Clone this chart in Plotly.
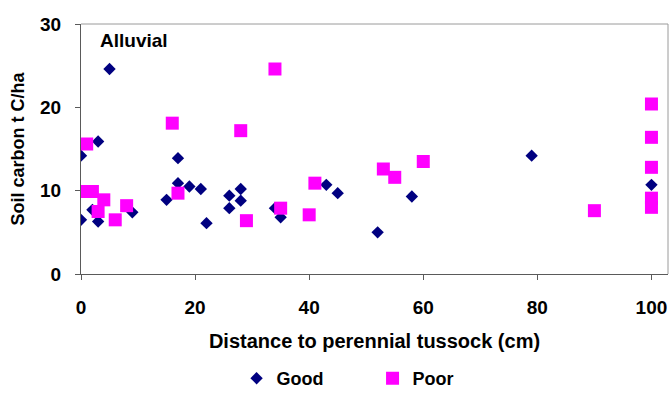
import plotly.graph_objects as go

# Soil carbon vs distance to the nearest perennial tussock, alluvial site
good_distance = [0, 0, 2, 3, 3, 5, 9, 15, 17, 17, 19, 21, 22, 26, 26, 28, 28,
                 34, 35, 43, 45, 52, 58, 79, 100]
good_carbon = [14.2, 6.5, 7.7, 15.9, 6.3, 24.6, 7.4, 8.9, 13.9, 10.9, 10.5, 10.2,
               6.1, 9.4, 7.9, 10.2, 8.8, 7.9, 6.8, 10.7, 9.7, 5.0, 9.3, 14.2, 10.7]

poor_distance = [1, 1, 2, 4, 3, 6, 8, 16, 17, 28, 29, 34, 35, 40, 41, 53, 55, 60,
                 90, 100, 100, 100, 100, 100]
poor_carbon = [15.6, 9.9, 9.9, 8.9, 7.5, 6.5, 8.2, 18.1, 9.7, 17.2, 6.4, 24.6, 7.9,
               7.1, 10.9, 12.6, 11.6, 13.5, 7.6, 20.4, 16.4, 12.8, 9.1, 8.0]

x_ticks = [0, 20, 40, 60, 80, 100]
y_ticks = [0, 10, 20, 30]

FONT = "Liberation Sans, Arial, sans-serif"
AXIS_GREY = "#5a5a5a"
FRAME_GREY = "#9a9a9a"

fig = go.Figure()
fig.add_trace(go.Scatter(
    x=good_distance, y=good_carbon, mode="markers", name="Good",
    marker=dict(symbol="diamond", size=9.5, color="#000080", line=dict(width=0)),
))
fig.add_trace(go.Scatter(
    x=poor_distance, y=poor_carbon, mode="markers", name="Poor",
    marker=dict(symbol="square", size=13, color="#FF00FF", line=dict(width=0)),
))

fig.update_layout(
    width=670, height=399,
    margin=dict(l=81, r=2, t=24, b=114),
    paper_bgcolor="white", plot_bgcolor="white",
    font=dict(family=FONT, size=17, color="black"),
    showlegend=True,
    legend=dict(
        orientation="h", x=0.265, xanchor="left", y=-0.418, yanchor="middle",
        font=dict(family=FONT, size=18, color="black", weight="bold"),
        entrywidth=91, entrywidthmode="pixels", itemwidth=30,
        bgcolor="rgba(0,0,0,0)",
    ),
    # light frame on the top and right of the plot area
    shapes=[dict(
        type="path", xref="paper", yref="paper",
        path="M 0 1 L 1 1 L 1 0", line=dict(color=FRAME_GREY, width=1),
    )],
    annotations=[dict(
        text="<b>Alluvial</b>", xref="paper", yref="paper",
        x=(134 - 81) / 587, y=(285 - 41.7) / 261, xanchor="center", yanchor="middle",
        showarrow=False, font=dict(family=FONT, size=19, color="black"),
    )],
)

fig.update_xaxes(
    range=[0, 102.9], tickvals=x_ticks, ticktext=[str(v) for v in x_ticks],
    showgrid=False, zeroline=False,
    showline=True, linecolor=AXIS_GREY, linewidth=1,
    ticks="outside", ticklen=5, tickcolor=AXIS_GREY, tickwidth=1,
    ticklabelstandoff=11,
    tickfont=dict(family=FONT, size=19, color="black", weight="bold"),
    title=dict(text="Distance to perennial tussock (cm)", standoff=17,
               font=dict(family=FONT, size=20, color="black", weight="bold")),
)
fig.update_yaxes(
    range=[0, 30], tickvals=y_ticks, ticktext=[str(v) for v in y_ticks],
    showgrid=False, zeroline=False,
    showline=True, linecolor=AXIS_GREY, linewidth=1,
    ticks="outside", ticklen=5, tickcolor=AXIS_GREY, tickwidth=1,
    ticklabelstandoff=10,
    tickfont=dict(family=FONT, size=19, color="black", weight="bold"),
    title=dict(text="Soil carbon t C/ha", standoff=10,
               font=dict(family=FONT, size=18, color="black", weight="bold")),
)

fig.write_html("out.html")
